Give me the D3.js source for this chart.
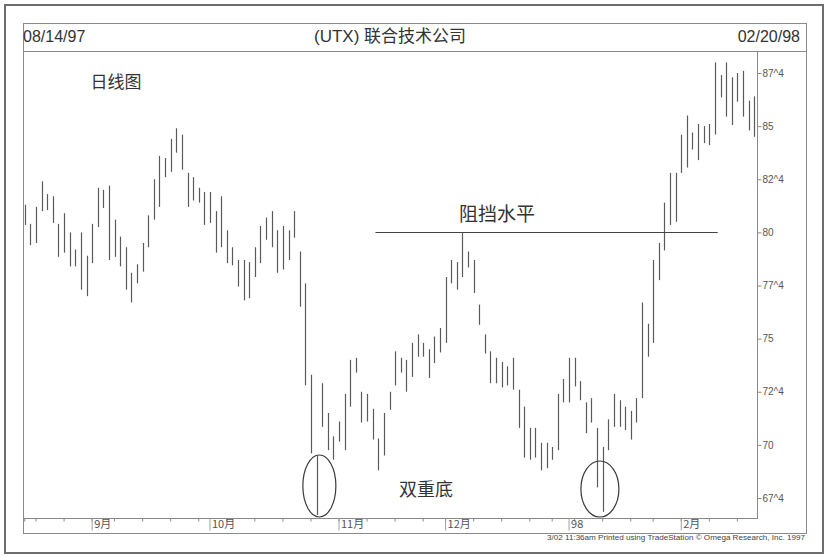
<!DOCTYPE html>
<html>
<head>
<meta charset="utf-8">
<script src="https://cdn.jsdelivr.net/npm/d3@7"></script>
<style>
  html, body { margin: 0; padding: 0; background: #ffffff; }
  svg { display: block; }
</style>
</head>
<body>
<svg id="chart" width="827" height="558"></svg>
<script>
// ---------------- DATA ----------------
const dates = [
  "1997-08-14","1997-08-15","1997-08-18","1997-08-19","1997-08-20","1997-08-21","1997-08-22","1997-08-25","1997-08-26","1997-08-27","1997-08-28","1997-08-29",
  "1997-09-02","1997-09-03","1997-09-04","1997-09-05","1997-09-08","1997-09-09","1997-09-10","1997-09-11","1997-09-12","1997-09-15","1997-09-16","1997-09-17","1997-09-18","1997-09-19","1997-09-22","1997-09-23","1997-09-24","1997-09-25","1997-09-26","1997-09-29","1997-09-30",
  "1997-10-01","1997-10-02","1997-10-03","1997-10-06","1997-10-07","1997-10-08","1997-10-09","1997-10-10","1997-10-13","1997-10-14","1997-10-15","1997-10-16","1997-10-17","1997-10-20","1997-10-21","1997-10-22","1997-10-23","1997-10-24","1997-10-27","1997-10-28","1997-10-29","1997-10-30","1997-10-31",
  "1997-11-03","1997-11-04","1997-11-05","1997-11-06","1997-11-07","1997-11-10","1997-11-11","1997-11-12","1997-11-13","1997-11-14","1997-11-17","1997-11-18","1997-11-19","1997-11-20","1997-11-21","1997-11-24","1997-11-25","1997-11-26","1997-11-28",
  "1997-12-01","1997-12-02","1997-12-03","1997-12-04","1997-12-05","1997-12-08","1997-12-09","1997-12-10","1997-12-11","1997-12-12","1997-12-15","1997-12-16","1997-12-17","1997-12-18","1997-12-19","1997-12-22","1997-12-23","1997-12-24","1997-12-26","1997-12-29","1997-12-30","1997-12-31",
  "1998-01-02","1998-01-05","1998-01-06","1998-01-07","1998-01-08","1998-01-09","1998-01-12","1998-01-13","1998-01-14","1998-01-15","1998-01-16","1998-01-20","1998-01-21","1998-01-22","1998-01-23","1998-01-26","1998-01-27","1998-01-28","1998-01-29","1998-01-30",
  "1998-02-02","1998-02-03","1998-02-04","1998-02-05","1998-02-06","1998-02-09","1998-02-10","1998-02-11","1998-02-12","1998-02-13","1998-02-17","1998-02-18","1998-02-19","1998-02-20"
];

const high = [
  81.3,80.4,81.2,82.4,81.8,81.7,80.4,80.9,80.0,79.2,
  80.0,78.9,80.4,82.1,82.0,82.2,80.6,79.8,79.3,78.1,
  78.5,79.5,80.8,82.5,83.6,83.5,84.4,84.9,84.6,82.8,
  82.6,82.1,81.9,81.9,81.0,81.7,80.1,79.3,78.7,78.7,
  78.6,79.3,80.3,80.7,81.0,80.1,80.3,80.1,81.0,79.1,
  77.6,73.3,69.5,72.9,71.5,70.4,71.1,72.4,74.0,74.1,
  72.5,72.4,71.7,70.3,71.5,72.5,74.4,74.1,74.0,74.8,
  75.2,74.8,74.5,75.1,75.5,77.9,78.7,78.6,80.0,79.1,
  78.7,76.6,75.2,74.4,74.1,73.9,73.7,74.1,72.6,71.8,
  70.8,70.8,70.1,70.1,69.9,72.4,73.1,74.1,74.1,73.0,
  72.0,72.2,70.8,69.9,71.2,72.4,72.1,71.8,71.6,72.2,
  76.7,75.7,78.7,79.5,81.4,82.8,82.8,84.6,85.5,84.7,
  85.1,85.0,85.1,88.0,87.4,88.0,87.3,87.5,87.6,86.2,86.4
];

const low = [
  80.35,79.4,79.5,81.0,81.05,80.45,78.85,79.05,78.4,78.4,
  77.3,77.0,78.55,80.25,81.15,78.7,78.85,78.4,77.3,76.7,
  77.6,78.15,79.3,80.6,81.2,82.6,82.85,83.75,82.95,81.2,
  81.5,81.4,80.35,80.45,79.05,79.3,78.55,78.45,77.45,76.8,
  76.9,77.9,78.55,79.65,79.3,78.1,78.25,78.7,79.75,76.5,
  72.8,69.6,66.7,70.85,69.75,69.3,70.15,69.75,71.8,73.4,
  71.05,71.1,70.25,68.8,69.5,71.65,72.8,73.4,72.5,73.2,
  74.15,74.15,73.15,73.85,74.35,74.8,77.6,77.3,77.9,78.35,
  77.15,75.65,74.3,72.9,72.9,72.7,72.8,72.6,70.8,69.4,
  69.3,69.4,68.8,68.9,69.3,69.75,72.0,72.0,72.75,72.1,
  70.55,71.05,68.0,66.85,69.75,70.85,70.85,70.7,70.25,71.05,
  72.2,74.15,74.8,77.75,79.15,80.35,80.5,82.8,83.05,83.9,
  83.4,84.2,84.1,84.6,86.35,85.45,85.05,86.15,85.45,84.8,84.5
];

const yTicks = [67.5, 70, 72.5, 75, 77.5, 80, 82.5, 85, 87.5];
const monthStarts = ["1997-09-02","1997-10-01","1997-11-03","1997-12-01","1998-01-02","1998-02-02"];
const monthLabels = ["9月","10月","11月","12月","98","2月"];

const resistanceLevel = 80;
const resistanceFrom = "1997-11-12";
const resistanceTo = "1998-02-10";
const bottomDates = ["1997-10-28", "1998-01-09"];

const headerLeft = "08/14/97";
const headerRight = "02/20/98";
const noteDaily = "日线图";
const noteResist = "阻挡水平";
const noteBottom = "双重底";
const credit = "3/02 11:36am Printed using TradeStation © Omega Research, Inc. 1997";

// ---------------- LAYOUT ----------------
const svg = d3.select("#chart");
const inner = { left: 23, top: 23, right: 806, bottom: 533 };
const headerLine = 51;
const axisX = 757;     // y-axis line position
const axisY = 518;     // x-axis line position

const latin = "'Liberation Sans', Arial, sans-serif";
const cjk = "'Noto Sans CJK SC', 'Noto Sans', sans-serif";

const x = d3.scaleBand().domain(dates).range([22, 757]).padding(0);
const xc = d => Math.round(x(d) + x.bandwidth() / 2) + 0.5;
const y = d3.scaleLinear().domain([67.5, 87.5]).range([498, 73]);

// outer border
svg.append("rect").attr("x", 5).attr("y", 5).attr("width", 818).attr("height", 548)
  .attr("fill", "none").attr("stroke", "#6d6d6d").attr("stroke-width", 2);
// inner box
svg.append("rect").attr("x", inner.left + 0.5).attr("y", inner.top + 0.5)
  .attr("width", inner.right - inner.left).attr("height", inner.bottom - inner.top)
  .attr("fill", "none").attr("stroke", "#8a8a8a").attr("stroke-width", 1);
// header separator
svg.append("line").attr("x1", inner.left).attr("x2", inner.right)
  .attr("y1", headerLine + 0.5).attr("y2", headerLine + 0.5)
  .attr("stroke", "#8a8a8a").attr("stroke-width", 1);

// header texts
svg.append("text").attr("x", 23).attr("y", 42).text(headerLeft)
  .attr("font-family", latin).attr("font-size", 16).attr("fill", "#333");
svg.append("text").attr("x", 800).attr("y", 42).attr("text-anchor", "end").text(headerRight)
  .attr("font-family", latin).attr("font-size", 16).attr("fill", "#333");
const t = svg.append("text").attr("x", 390).attr("y", 42).attr("text-anchor", "middle")
  .attr("font-size", 17).attr("fill", "#333");
t.append("tspan").attr("font-family", latin).text("(UTX) ");
t.append("tspan").attr("font-family", cjk).text("联合技术公司");

// y axis line
svg.append("line").attr("x1", axisX + 0.5).attr("x2", axisX + 0.5)
  .attr("y1", headerLine).attr("y2", axisY)
  .attr("stroke", "#8a8a8a").attr("stroke-width", 1);

const fmt = v => Number.isInteger(v) ? String(v) : Math.floor(v) + "^4";
const yAxis = d3.axisRight(y).tickValues(yTicks).tickFormat(fmt).tickSize(4).tickPadding(1);
const gy = svg.append("g").attr("transform", `translate(${axisX + 0.5},0)`).call(yAxis);
gy.select(".domain").remove();
gy.selectAll(".tick line").attr("stroke", "#8a8a8a");
gy.selectAll(".tick text").attr("font-family", latin).attr("font-size", 10).attr("fill", "#555");

// x axis line
svg.append("line").attr("x1", inner.left).attr("x2", axisX + 1)
  .attr("y1", axisY + 0.5).attr("y2", axisY + 0.5)
  .attr("stroke", "#8a8a8a").attr("stroke-width", 1);

// weekly ticks (first trading day of each week)
const weekStarts = dates.filter((d, i) => i === 0 || new Date(d + "T12:00:00").getDay() < new Date(dates[i - 1] + "T12:00:00").getDay());
const xAxis = d3.axisBottom(x).tickValues(weekStarts).tickFormat("").tickSize(3);
const gx = svg.append("g").attr("transform", `translate(0,${axisY + 0.5})`).call(xAxis);
gx.select(".domain").remove();
gx.selectAll(".tick line").attr("stroke", "#8a8a8a");

// month ticks and labels
const mAxis = d3.axisBottom(x).tickValues(monthStarts)
  .tickFormat((d, i) => monthLabels[i]).tickSize(12).tickPadding(0);
const gm = svg.append("g").attr("transform", `translate(0,${axisY + 0.5})`).call(mAxis);
gm.select(".domain").remove();
gm.selectAll(".tick line").attr("stroke", "#a0a0a0");
gm.selectAll(".tick text")
  .attr("text-anchor", "start").attr("x", 2).attr("y", 2).attr("dy", "0.71em")
  .attr("font-family", cjk).attr("font-size", 11).attr("fill", "#555");

// price bars (high-low)
svg.append("g").selectAll("line").data(dates).join("line")
  .attr("x1", d => xc(d)).attr("x2", d => xc(d))
  .attr("y1", (d, i) => y(high[i])).attr("y2", (d, i) => y(low[i]))
  .attr("stroke", "#5a5a5a").attr("stroke-width", 1.2);

// resistance line
svg.append("line")
  .attr("x1", x(resistanceFrom)).attr("x2", x(resistanceTo) + x.bandwidth())
  .attr("y1", Math.round(y(resistanceLevel)) + 0.5).attr("y2", Math.round(y(resistanceLevel)) + 0.5)
  .attr("stroke", "#444").attr("stroke-width", 1);

// ellipses round the two bottoms
const ell = [ { d: bottomDates[0], rx: 16.5, top: 455 }, { d: bottomDates[1], rx: 19, top: 461 } ];
svg.append("g").selectAll("ellipse").data(ell).join("ellipse")
  .attr("cx", e => x(e.d) + x.bandwidth())
  .attr("cy", e => (e.top + axisY - 1) / 2)
  .attr("rx", e => e.rx)
  .attr("ry", e => (axisY - 1 - e.top) / 2)
  .attr("fill", "none").attr("stroke", "#3a3a3a").attr("stroke-width", 1.2);

// annotations
svg.append("text").attr("x", 116).attr("y", 88).attr("text-anchor", "middle").text(noteDaily)
  .attr("font-family", cjk).attr("font-size", 17).attr("fill", "#333");
svg.append("text").attr("x", 497).attr("y", 221).attr("text-anchor", "middle").text(noteResist)
  .attr("font-family", cjk).attr("font-size", 19).attr("fill", "#333");
svg.append("text").attr("x", 426).attr("y", 496).attr("text-anchor", "middle").text(noteBottom)
  .attr("font-family", cjk).attr("font-size", 18).attr("fill", "#333");

// credit line
svg.append("text").attr("x", 805).attr("y", 540).attr("text-anchor", "end").text(credit)
  .attr("font-family", latin).attr("font-size", 7).attr("fill", "#444")
  .attr("textLength", 258).attr("lengthAdjust", "spacingAndGlyphs");
</script>
</body>
</html>
